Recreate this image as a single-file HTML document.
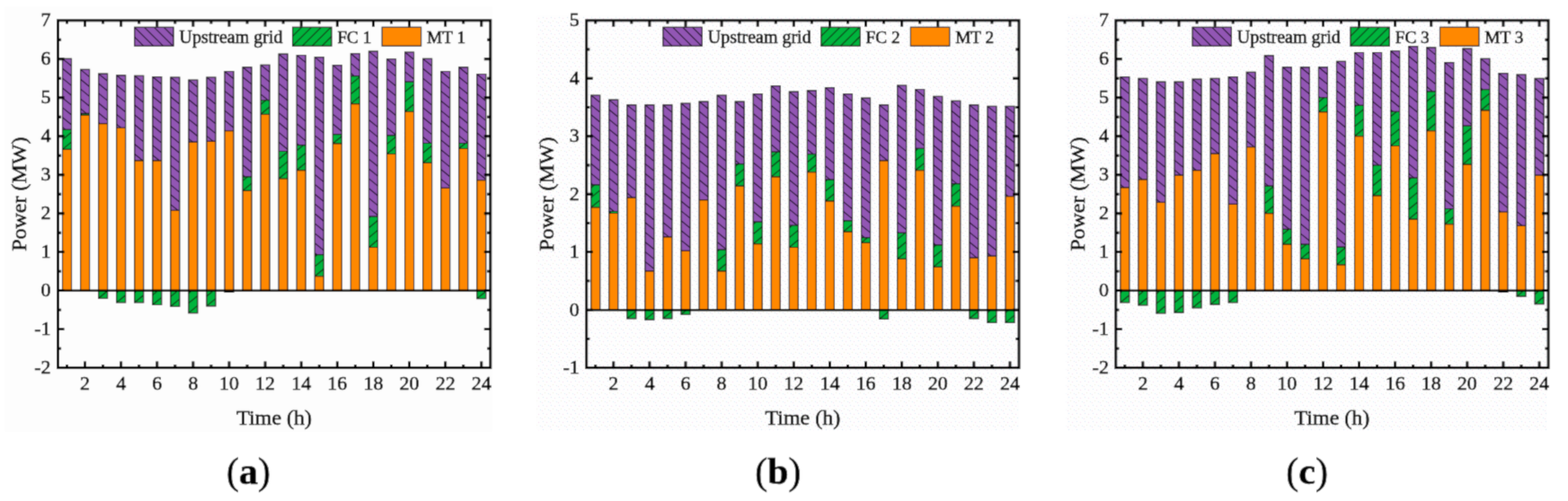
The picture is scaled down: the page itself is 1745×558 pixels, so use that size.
<!DOCTYPE html>
<html><head><meta charset="utf-8"><title>Power dispatch charts</title>
<style>
html,body{margin:0;padding:0;background:#fff;}
body{width:1745px;height:558px;overflow:hidden;}
svg{display:block;}
text{font-family:"Liberation Serif","Times New Roman",serif;fill:#000;stroke:#000;stroke-width:0.55px;}
.tk{font-size:22px;}
.ax{font-size:24px;}
.lg{font-size:19.3px;}
.lg1{font-size:20px;}
.cap{font-size:42px;}
</style></head><body>
<svg width="1745" height="558" viewBox="0 0 1745 558">
<defs><pattern id="dots" patternUnits="userSpaceOnUse" x="0" y="0" width="9" height="9"><rect width="9" height="9" fill="#fefefe"/><rect x="1" y="1" width="1" height="1" fill="#cfe6f8"/><rect x="5" y="2" width="1" height="1" fill="#f4d6ef"/><rect x="3" y="5" width="1" height="1" fill="#ebebd8"/><rect x="7" y="6" width="1" height="1" fill="#d4e8f8"/><rect x="0" y="7" width="1" height="1" fill="#f1dcec"/></pattern><filter id="bl" x="0" y="0" width="1745" height="558" filterUnits="userSpaceOnUse"><feConvolveMatrix order="3" kernelMatrix="0.0277 0.1110 0.0277 0.1110 0.4452 0.1110 0.0277 0.1110 0.0277" edgeMode="duplicate"/></filter></defs>
<g filter="url(#bl)">
<rect width="1745" height="558" fill="#fff"/>
<rect x="5" y="7" width="543" height="474" fill="#fdfdfd"/>
<path d="M69.53,65.35h10v79.08h-10zM89.58,77.38h10v48.99h-10zM109.64,82.11h10v55.44h-10zM129.69,83.83h10v58.45h-10zM149.74,84.26h10v94.55h-10zM169.8,85.55h10v93.26h-10zM189.85,85.98h10v148.27h-10zM209.91,88.99h10v69.19h-10zM229.96,85.98h10v71.34h-10zM250.01,79.53h10v66.19h-10zM270.07,74.8h10v122.06h-10zM290.12,72.22h10v39.54h-10zM310.18,60.19h10v108.3h-10zM330.23,61.48h10v100.14h-10zM350.29,63.63h10v220.05h-10zM370.34,72.65h10v76.93h-10zM390.39,59.76h10v24.93h-10zM410.45,57.18h10v183.94h-10zM430.5,65.78h10v85.1h-10zM450.56,58.04h10v33.09h-10zM470.61,65.35h10v94.12h-10zM490.66,79.53h10v129.79h-10zM510.72,74.8h10v84.67h-10zM530.77,82.54h10v118.19h-10z" fill="#9256b4"/>
<path d="M69.53,144.43h10v21.92h-10zM89.58,126.38h10v1.72h-10zM109.64,323.64h10v8.6h-10zM129.69,323.64h10v13.32h-10zM149.74,323.64h10v13.32h-10zM169.8,323.64h10v15.9h-10zM189.85,323.64h10v17.62h-10zM209.91,323.64h10v24.93h-10zM229.96,323.64h10v17.19h-10zM250.01,323.64h10v1.72h-10zM270.07,196.86h10v15.47h-10zM290.12,111.76h10v15.47h-10zM310.18,168.49h10v30.51h-10zM330.23,161.62h10v27.94h-10zM350.29,283.68h10v24.07h-10zM370.34,149.58h10v10.31h-10zM390.39,84.69h10v30.94h-10zM410.45,241.13h10v34.38h-10zM430.5,150.87h10v20.63h-10zM450.56,91.13h10v33.09h-10zM470.61,159.47h10v21.92h-10zM490.66,323.64h10v0.86h-10zM510.72,159.47h10v6.02h-10zM530.77,323.64h10v9.03h-10z" fill="#04b43c"/>
<path d="M69.53,166.35h10v157.3h-10zM89.58,128.1h10v195.55h-10zM109.64,137.55h10v186.09h-10zM129.69,142.28h10v181.37h-10zM149.74,178.81h10v144.84h-10zM169.8,178.81h10v144.84h-10zM189.85,234.25h10v89.39h-10zM209.91,158.18h10v165.46h-10zM229.96,157.32h10v166.32h-10zM250.01,145.72h10v177.93h-10zM270.07,212.33h10v111.31h-10zM290.12,127.24h10v196.41h-10zM310.18,199.01h10v124.64h-10zM330.23,189.55h10v134.09h-10zM350.29,307.74h10v15.9h-10zM370.34,159.9h10v163.75h-10zM390.39,115.63h10v208.01h-10zM410.45,275.51h10v48.14h-10zM430.5,171.5h10v152.14h-10zM450.56,124.23h10v199.42h-10zM470.61,181.39h10v142.26h-10zM490.66,209.32h10v114.32h-10zM510.72,165.49h10v158.16h-10zM530.77,200.73h10v122.92h-10z" fill="#ff8800"/>
<path d="M69.53,65.35L79.53,73.55M69.53,76.25L79.53,84.45M69.53,87.15L79.53,95.35M69.53,98.05L79.53,106.25M69.53,108.95L79.53,117.15M69.53,119.85L79.53,128.05M69.53,130.75L79.53,138.95M69.53,141.65L72.92,144.43M89.58,77.38L99.58,85.58M89.58,88.28L99.58,96.48M89.58,99.18L99.58,107.38M89.58,110.08L99.58,118.28M89.58,120.98L96.16,126.38M109.64,82.11L119.64,90.31M109.64,93.01L119.64,101.21M109.64,103.91L119.64,112.11M109.64,114.81L119.64,123.01M109.64,125.71L119.64,133.91M109.64,136.61L110.78,137.55M129.69,83.83L139.69,92.03M129.69,94.73L139.69,102.93M129.69,105.63L139.69,113.83M129.69,116.53L139.69,124.73M129.69,127.43L139.69,135.63M129.69,138.33L134.51,142.28M149.74,84.26L159.74,92.46M149.74,95.16L159.74,103.36M149.74,106.06L159.74,114.26M149.74,116.96L159.74,125.16M149.74,127.86L159.74,136.06M149.74,138.76L159.74,146.96M149.74,149.66L159.74,157.86M149.74,160.56L159.74,168.76M149.74,171.46L158.71,178.81M169.8,85.55L179.8,93.75M169.8,96.45L179.8,104.65M169.8,107.35L179.8,115.55M169.8,118.25L179.8,126.45M169.8,129.15L179.8,137.35M169.8,140.05L179.8,148.25M169.8,150.95L179.8,159.15M169.8,161.85L179.8,170.05M169.8,172.75L177.19,178.81M189.85,85.98L199.85,94.18M189.85,96.88L199.85,105.08M189.85,107.78L199.85,115.98M189.85,118.68L199.85,126.88M189.85,129.58L199.85,137.78M189.85,140.48L199.85,148.68M189.85,151.38L199.85,159.58M189.85,162.28L199.85,170.48M189.85,173.18L199.85,181.38M189.85,184.08L199.85,192.28M189.85,194.98L199.85,203.18M189.85,205.88L199.85,214.08M189.85,216.78L199.85,224.98M189.85,227.68L197.87,234.25M209.91,88.99L219.91,97.19M209.91,99.89L219.91,108.09M209.91,110.79L219.91,118.99M209.91,121.69L219.91,129.89M209.91,132.59L219.91,140.79M209.91,143.49L219.91,151.69M209.91,154.39L214.53,158.18M229.96,85.98L239.96,94.18M229.96,96.88L239.96,105.08M229.96,107.78L239.96,115.98M229.96,118.68L239.96,126.88M229.96,129.58L239.96,137.78M229.96,140.48L239.96,148.68M229.96,151.38L237.21,157.32M250.01,79.53L260.01,87.73M250.01,90.43L260.01,98.63M250.01,101.33L260.01,109.53M250.01,112.23L260.01,120.43M250.01,123.13L260.01,131.33M250.01,134.03L260.01,142.23M250.01,144.93L250.97,145.72M270.07,74.8L280.07,83M270.07,85.7L280.07,93.9M270.07,96.6L280.07,104.8M270.07,107.5L280.07,115.7M270.07,118.4L280.07,126.6M270.07,129.3L280.07,137.5M270.07,140.2L280.07,148.4M270.07,151.1L280.07,159.3M270.07,162L280.07,170.2M270.07,172.9L280.07,181.1M270.07,183.8L280.07,192M270.07,194.7L272.7,196.86M290.12,72.22L300.12,80.42M290.12,83.12L300.12,91.32M290.12,94.02L300.12,102.22M290.12,104.92L298.46,111.76M310.18,60.19L320.18,68.39M310.18,71.09L320.18,79.29M310.18,81.99L320.18,90.19M310.18,92.89L320.18,101.09M310.18,103.79L320.18,111.99M310.18,114.69L320.18,122.89M310.18,125.59L320.18,133.79M310.18,136.49L320.18,144.69M310.18,147.39L320.18,155.59M310.18,158.29L320.18,166.49M330.23,61.48L340.23,69.68M330.23,72.38L340.23,80.58M330.23,83.28L340.23,91.48M330.23,94.18L340.23,102.38M330.23,105.08L340.23,113.28M330.23,115.98L340.23,124.18M330.23,126.88L340.23,135.08M330.23,137.78L340.23,145.98M330.23,148.68L340.23,156.88M330.23,159.58L332.72,161.62M350.29,63.63L360.29,71.83M350.29,74.53L360.29,82.73M350.29,85.43L360.29,93.63M350.29,96.33L360.29,104.53M350.29,107.23L360.29,115.43M350.29,118.13L360.29,126.33M350.29,129.03L360.29,137.23M350.29,139.93L360.29,148.13M350.29,150.83L360.29,159.03M350.29,161.73L360.29,169.93M350.29,172.63L360.29,180.83M350.29,183.53L360.29,191.73M350.29,194.43L360.29,202.63M350.29,205.33L360.29,213.53M350.29,216.23L360.29,224.43M350.29,227.13L360.29,235.33M350.29,238.03L360.29,246.23M350.29,248.93L360.29,257.13M350.29,259.83L360.29,268.03M350.29,270.73L360.29,278.93M350.29,281.63L352.78,283.68M370.34,72.65L380.34,80.85M370.34,83.55L380.34,91.75M370.34,94.45L380.34,102.65M370.34,105.35L380.34,113.55M370.34,116.25L380.34,124.45M370.34,127.15L380.34,135.35M370.34,138.05L380.34,146.25M370.34,148.95L371.11,149.58M390.39,59.76L400.39,67.96M390.39,70.66L400.39,78.86M390.39,81.56L394.21,84.69M410.45,57.18L420.45,65.38M410.45,68.08L420.45,76.28M410.45,78.98L420.45,87.18M410.45,89.88L420.45,98.08M410.45,100.78L420.45,108.98M410.45,111.68L420.45,119.88M410.45,122.58L420.45,130.78M410.45,133.48L420.45,141.68M410.45,144.38L420.45,152.58M410.45,155.28L420.45,163.48M410.45,166.18L420.45,174.38M410.45,177.08L420.45,185.28M410.45,187.98L420.45,196.18M410.45,198.88L420.45,207.08M410.45,209.78L420.45,217.98M410.45,220.68L420.45,228.88M410.45,231.58L420.45,239.78M430.5,65.78L440.5,73.98M430.5,76.68L440.5,84.88M430.5,87.58L440.5,95.78M430.5,98.48L440.5,106.68M430.5,109.38L440.5,117.58M430.5,120.28L440.5,128.48M430.5,131.18L440.5,139.38M430.5,142.08L440.5,150.28M450.56,58.04L460.56,66.24M450.56,68.94L460.56,77.14M450.56,79.84L460.56,88.04M450.56,90.74L451.04,91.13M470.61,65.35L480.61,73.55M470.61,76.25L480.61,84.45M470.61,87.15L480.61,95.35M470.61,98.05L480.61,106.25M470.61,108.95L480.61,117.15M470.61,119.85L480.61,128.05M470.61,130.75L480.61,138.95M470.61,141.65L480.61,149.85M470.61,152.55L479.05,159.47M490.66,79.53L500.66,87.73M490.66,90.43L500.66,98.63M490.66,101.33L500.66,109.53M490.66,112.23L500.66,120.43M490.66,123.13L500.66,131.33M490.66,134.03L500.66,142.23M490.66,144.93L500.66,153.13M490.66,155.83L500.66,164.03M490.66,166.73L500.66,174.93M490.66,177.63L500.66,185.83M490.66,188.53L500.66,196.73M490.66,199.43L500.66,207.63M510.72,74.8L520.72,83M510.72,85.7L520.72,93.9M510.72,96.6L520.72,104.8M510.72,107.5L520.72,115.7M510.72,118.4L520.72,126.6M510.72,129.3L520.72,137.5M510.72,140.2L520.72,148.4M510.72,151.1L520.72,159.3M530.77,82.54L540.77,90.74M530.77,93.44L540.77,101.64M530.77,104.34L540.77,112.54M530.77,115.24L540.77,123.44M530.77,126.14L540.77,134.34M530.77,137.04L540.77,145.24M530.77,147.94L540.77,156.14M530.77,158.84L540.77,167.04M530.77,169.74L540.77,177.94M530.77,180.64L540.77,188.84M530.77,191.54L540.77,199.74" stroke="#1e1428" stroke-width="1.15" fill="none"/>
<path d="M69.53,166.35L79.53,158.15M69.53,155.45L79.53,147.25M69.53,144.55L69.67,144.43M89.58,128.1L91.68,126.38M109.64,332.24L119.64,324.04M129.69,336.97L139.69,328.77M129.69,326.07L132.64,323.64M149.74,336.97L159.74,328.77M149.74,326.07L152.7,323.64M169.8,339.55L179.8,331.35M169.8,328.65L175.9,323.64M189.85,341.27L199.85,333.07M189.85,330.37L198.05,323.64M209.91,348.57L219.91,340.37M209.91,337.67L219.91,329.47M209.91,326.77L213.72,323.64M229.96,340.84L239.96,332.64M229.96,329.94L237.63,323.64M250.01,325.36L252.11,323.64M270.07,212.33L280.07,204.13M270.07,201.43L275.64,196.86M290.12,127.24L300.12,119.04M290.12,116.34L295.7,111.76M310.18,199.01L320.18,190.81M310.18,188.11L320.18,179.91M310.18,177.21L320.18,169.01M330.23,189.55L340.23,181.35M330.23,178.65L340.23,170.45M330.23,167.75L337.71,161.62M350.29,307.74L360.29,299.54M350.29,296.84L360.29,288.64M350.29,285.94L353.05,283.68M370.34,159.9L380.34,151.7M390.39,115.63L400.39,107.43M390.39,104.73L400.39,96.53M390.39,93.83L400.39,85.63M410.45,275.51L420.45,267.31M410.45,264.61L420.45,256.41M410.45,253.71L420.45,245.51M410.45,242.81L412.5,241.13M430.5,171.5L440.5,163.3M430.5,160.6L440.5,152.4M450.56,124.23L460.56,116.03M450.56,113.33L460.56,105.13M450.56,102.43L460.56,94.23M450.56,91.53L451.04,91.13M470.61,181.39L480.61,173.19M470.61,170.49L480.61,162.29M470.61,159.59L470.76,159.47M490.66,324.5L491.71,323.64M510.72,165.49L518.06,159.47M530.77,332.67L540.77,324.47" stroke="#0c2a14" stroke-width="1.15" fill="none"/>
<path d="M69.53,65.35h10v79.08h-10zM69.53,144.43h10v21.92h-10zM69.53,166.35h10v157.3h-10zM89.58,77.38h10v48.99h-10zM89.58,126.38h10v1.72h-10zM89.58,128.1h10v195.55h-10zM109.64,82.11h10v55.44h-10zM109.64,137.55h10v186.09h-10zM109.64,323.64h10v8.6h-10zM129.69,83.83h10v58.45h-10zM129.69,142.28h10v181.37h-10zM129.69,323.64h10v13.32h-10zM149.74,84.26h10v94.55h-10zM149.74,178.81h10v144.84h-10zM149.74,323.64h10v13.32h-10zM169.8,85.55h10v93.26h-10zM169.8,178.81h10v144.84h-10zM169.8,323.64h10v15.9h-10zM189.85,85.98h10v148.27h-10zM189.85,234.25h10v89.39h-10zM189.85,323.64h10v17.62h-10zM209.91,88.99h10v69.19h-10zM209.91,158.18h10v165.46h-10zM209.91,323.64h10v24.93h-10zM229.96,85.98h10v71.34h-10zM229.96,157.32h10v166.32h-10zM229.96,323.64h10v17.19h-10zM250.01,79.53h10v66.19h-10zM250.01,145.72h10v177.93h-10zM250.01,323.64h10v1.72h-10zM270.07,74.8h10v122.06h-10zM270.07,196.86h10v15.47h-10zM270.07,212.33h10v111.31h-10zM290.12,72.22h10v39.54h-10zM290.12,111.76h10v15.47h-10zM290.12,127.24h10v196.41h-10zM310.18,60.19h10v108.3h-10zM310.18,168.49h10v30.51h-10zM310.18,199.01h10v124.64h-10zM330.23,61.48h10v100.14h-10zM330.23,161.62h10v27.94h-10zM330.23,189.55h10v134.09h-10zM350.29,63.63h10v220.05h-10zM350.29,283.68h10v24.07h-10zM350.29,307.74h10v15.9h-10zM370.34,72.65h10v76.93h-10zM370.34,149.58h10v10.31h-10zM370.34,159.9h10v163.75h-10zM390.39,59.76h10v24.93h-10zM390.39,84.69h10v30.94h-10zM390.39,115.63h10v208.01h-10zM410.45,57.18h10v183.94h-10zM410.45,241.13h10v34.38h-10zM410.45,275.51h10v48.14h-10zM430.5,65.78h10v85.1h-10zM430.5,150.87h10v20.63h-10zM430.5,171.5h10v152.14h-10zM450.56,58.04h10v33.09h-10zM450.56,91.13h10v33.09h-10zM450.56,124.23h10v199.42h-10zM470.61,65.35h10v94.12h-10zM470.61,159.47h10v21.92h-10zM470.61,181.39h10v142.26h-10zM490.66,79.53h10v129.79h-10zM490.66,209.32h10v114.32h-10zM490.66,323.64h10v0.86h-10zM510.72,74.8h10v84.67h-10zM510.72,159.47h10v6.02h-10zM510.72,165.49h10v158.16h-10zM530.77,82.54h10v118.19h-10zM530.77,200.73h10v122.92h-10zM530.77,323.64h10v9.03h-10z" stroke="#141414" stroke-width="1.15" fill="none"/>
<line x1="64.5" y1="323.64" x2="545.8" y2="323.64" stroke="#000" stroke-width="2.5"/>
<path d="M74.53,409.6V406M74.53,22.8V26.4M94.58,409.6V402.6M94.58,22.8V29.8M114.64,409.6V406M114.64,22.8V26.4M134.69,409.6V402.6M134.69,22.8V29.8M154.74,409.6V406M154.74,22.8V26.4M174.8,409.6V402.6M174.8,22.8V29.8M194.85,409.6V406M194.85,22.8V26.4M214.91,409.6V402.6M214.91,22.8V29.8M234.96,409.6V406M234.96,22.8V26.4M255.01,409.6V402.6M255.01,22.8V29.8M275.07,409.6V406M275.07,22.8V26.4M295.12,409.6V402.6M295.12,22.8V29.8M315.18,409.6V406M315.18,22.8V26.4M335.23,409.6V402.6M335.23,22.8V29.8M355.29,409.6V406M355.29,22.8V26.4M375.34,409.6V402.6M375.34,22.8V29.8M395.39,409.6V406M395.39,22.8V26.4M415.45,409.6V402.6M415.45,22.8V29.8M435.5,409.6V406M435.5,22.8V26.4M455.56,409.6V402.6M455.56,22.8V29.8M475.61,409.6V406M475.61,22.8V26.4M495.66,409.6V402.6M495.66,22.8V29.8M515.72,409.6V406M515.72,22.8V26.4M535.77,409.6V402.6M535.77,22.8V29.8M64.5,388.11H68.1M545.8,388.11H542.2M64.5,366.62H71.5M545.8,366.62H538.8M64.5,345.13H68.1M545.8,345.13H542.2M64.5,323.64H71.5M545.8,323.64H538.8M64.5,302.16H68.1M545.8,302.16H542.2M64.5,280.67H71.5M545.8,280.67H538.8M64.5,259.18H68.1M545.8,259.18H542.2M64.5,237.69H71.5M545.8,237.69H538.8M64.5,216.2H68.1M545.8,216.2H542.2M64.5,194.71H71.5M545.8,194.71H538.8M64.5,173.22H68.1M545.8,173.22H542.2M64.5,151.73H71.5M545.8,151.73H538.8M64.5,130.24H68.1M545.8,130.24H542.2M64.5,108.76H71.5M545.8,108.76H538.8M64.5,87.27H68.1M545.8,87.27H542.2M64.5,65.78H71.5M545.8,65.78H538.8M64.5,44.29H68.1M545.8,44.29H542.2" stroke="#000" stroke-width="2.9" fill="none"/>
<rect x="64.5" y="22.8" width="481.3" height="386.8" fill="none" stroke="#000" stroke-width="2.9"/>
<text class="tk" x="94.58" y="434.2" text-anchor="middle">2</text>
<text class="tk" x="134.69" y="434.2" text-anchor="middle">4</text>
<text class="tk" x="174.8" y="434.2" text-anchor="middle">6</text>
<text class="tk" x="214.91" y="434.2" text-anchor="middle">8</text>
<text class="tk" x="255.01" y="434.2" text-anchor="middle">10</text>
<text class="tk" x="295.12" y="434.2" text-anchor="middle">12</text>
<text class="tk" x="335.23" y="434.2" text-anchor="middle">14</text>
<text class="tk" x="375.34" y="434.2" text-anchor="middle">16</text>
<text class="tk" x="415.45" y="434.2" text-anchor="middle">18</text>
<text class="tk" x="455.56" y="434.2" text-anchor="middle">20</text>
<text class="tk" x="495.66" y="434.2" text-anchor="middle">22</text>
<text class="tk" x="535.77" y="434.2" text-anchor="middle">24</text>
<text class="tk" x="56.6" y="416.1" text-anchor="end">-2</text>
<text class="tk" x="56.6" y="373.12" text-anchor="end">-1</text>
<text class="tk" x="56.6" y="330.14" text-anchor="end">0</text>
<text class="tk" x="56.6" y="287.17" text-anchor="end">1</text>
<text class="tk" x="56.6" y="244.19" text-anchor="end">2</text>
<text class="tk" x="56.6" y="201.21" text-anchor="end">3</text>
<text class="tk" x="56.6" y="158.23" text-anchor="end">4</text>
<text class="tk" x="56.6" y="115.26" text-anchor="end">5</text>
<text class="tk" x="56.6" y="72.28" text-anchor="end">6</text>
<text class="tk" x="56.6" y="29.3" text-anchor="end">7</text>
<text class="ax" x="305.15" y="473" text-anchor="middle">Time (h)</text>
<text class="ax" x="0" y="0" text-anchor="middle" transform="translate(29.3,216.2) rotate(-90)">Power (MW)</text>
<rect x="149.7" y="30.3" width="43.4" height="20.9" fill="#9256b4"/>
<path d="M182.4,30.3L193.1,41M171.5,30.3L192.4,51.2M160.6,30.3L181.5,51.2M149.7,30.3L170.6,51.2M149.7,41.2L159.7,51.2" stroke="#1e1428" stroke-width="1.15" fill="none"/>
<rect x="149.7" y="30.3" width="43.4" height="20.9" fill="none" stroke="#141414" stroke-width="1.15"/>
<text class="lg1" x="199.5" y="47.6">Upstream grid</text>
<rect x="325.6" y="30.3" width="43.4" height="20.9" fill="#04b43c"/>
<path d="M358.3,51.2L369,40.5M347.4,51.2L368.3,30.3M336.5,51.2L357.4,30.3M325.6,51.2L346.5,30.3M325.6,40.3L335.6,30.3" stroke="#0c2a14" stroke-width="1.15" fill="none"/>
<rect x="325.6" y="30.3" width="43.4" height="20.9" fill="none" stroke="#141414" stroke-width="1.15"/>
<text class="lg" x="375.4" y="47.6">FC 1</text>
<rect x="425.2" y="30.3" width="43.4" height="20.9" fill="#ff8800"/>
<rect x="425.2" y="30.3" width="43.4" height="20.9" fill="none" stroke="#141414" stroke-width="1.15"/>
<text class="lg" x="475" y="47.6">MT 1</text>
<text class="cap" x="276.5" y="538.5" text-anchor="middle">(<tspan font-weight="bold">a</tspan>)</text>
<rect x="597.5" y="17" width="536.5" height="462.2" fill="url(#dots)"/>
<path d="M657.73,105.96h10v99.92h-10zM677.78,111.12h10v124.42h-10zM697.84,116.92h10v103.15h-10zM717.89,116.92h10v185.02h-10zM737.94,116.92h10v146.98h-10zM758,114.99h10v164.39h-10zM778.05,113.05h10v109.59h-10zM798.11,105.96h10v172.13h-10zM818.16,113.05h10v69.62h-10zM838.21,104.67h10v142.47h-10zM858.27,95.65h10v73.49h-10zM878.32,102.09h10v148.92h-10zM898.38,100.8h10v70.91h-10zM918.43,97.58h10v102.5h-10zM938.49,104.67h10v141.18h-10zM958.54,109.19h10v155.36h-10zM978.59,116.92h10v61.89h-10zM998.65,95h10v164.39h-10zM1018.7,99.52h10v65.76h-10zM1038.76,107.25h10v165.68h-10zM1058.81,112.41h10v92.19h-10zM1078.86,116.92h10v170.19h-10zM1098.92,118.21h10v166.97h-10zM1118.97,118.21h10v100.57h-10z" fill="#9256b4"/>
<path d="M657.73,205.89h10v25.14h-10zM677.78,235.54h10v1.93h-10zM697.84,345.13h10v9.67h-10zM717.89,345.13h10v10.96h-10zM737.94,345.13h10v9.67h-10zM758,345.13h10v5.16h-10zM798.11,278.09h10v23.85h-10zM818.16,182.68h10v24.5h-10zM838.21,247.14h10v24.5h-10zM858.27,169.14h10v27.72h-10zM878.32,251.01h10v24.5h-10zM898.38,171.72h10v19.98h-10zM918.43,200.08h10v23.85h-10zM938.49,245.85h10v12.25h-10zM958.54,264.55h10v5.8h-10zM978.59,345.13h10v10.31h-10zM998.65,259.39h10v29.01h-10zM1018.7,165.27h10v24.5h-10zM1038.76,272.93h10v24.5h-10zM1058.81,204.6h10v25.14h-10zM1078.86,345.13h10v9.67h-10zM1098.92,345.13h10v14.18h-10zM1118.97,345.13h10v14.18h-10z" fill="#04b43c"/>
<path d="M657.73,231.03h10v114.11h-10zM677.78,237.47h10v107.66h-10zM697.84,220.07h10v125.07h-10zM717.89,301.94h10v43.19h-10zM737.94,263.91h10v81.23h-10zM758,279.38h10v65.76h-10zM778.05,222.65h10v122.49h-10zM798.11,301.94h10v43.19h-10zM818.16,207.17h10v137.96h-10zM838.21,271.64h10v73.49h-10zM858.27,196.86h10v148.27h-10zM878.32,275.51h10v69.62h-10zM898.38,191.7h10v153.43h-10zM918.43,223.94h10v121.2h-10zM938.49,258.1h10v87.03h-10zM958.54,270.35h10v74.78h-10zM978.59,178.81h10v166.32h-10zM998.65,288.4h10v56.73h-10zM1018.7,189.77h10v155.36h-10zM1038.76,297.43h10v47.71h-10zM1058.81,229.74h10v115.4h-10zM1078.86,287.11h10v58.02h-10zM1098.92,285.18h10v59.95h-10zM1118.97,218.78h10v126.35h-10z" fill="#ff8800"/>
<path d="M657.73,105.96L667.73,114.16M657.73,116.86L667.73,125.06M657.73,127.76L667.73,135.96M657.73,138.66L667.73,146.86M657.73,149.56L667.73,157.76M657.73,160.46L667.73,168.66M657.73,171.36L667.73,179.56M657.73,182.26L667.73,190.46M657.73,193.16L667.73,201.36M657.73,204.06L659.95,205.89M677.78,111.12L687.78,119.32M677.78,122.02L687.78,130.22M677.78,132.92L687.78,141.12M677.78,143.82L687.78,152.02M677.78,154.72L687.78,162.92M677.78,165.62L687.78,173.82M677.78,176.52L687.78,184.72M677.78,187.42L687.78,195.62M677.78,198.32L687.78,206.52M677.78,209.22L687.78,217.42M677.78,220.12L687.78,228.32M677.78,231.02L683.29,235.54M697.84,116.92L707.84,125.12M697.84,127.82L707.84,136.02M697.84,138.72L707.84,146.92M697.84,149.62L707.84,157.82M697.84,160.52L707.84,168.72M697.84,171.42L707.84,179.62M697.84,182.32L707.84,190.52M697.84,193.22L707.84,201.42M697.84,204.12L707.84,212.32M697.84,215.02L703.99,220.07M717.89,116.92L727.89,125.12M717.89,127.82L727.89,136.02M717.89,138.72L727.89,146.92M717.89,149.62L727.89,157.82M717.89,160.52L727.89,168.72M717.89,171.42L727.89,179.62M717.89,182.32L727.89,190.52M717.89,193.22L727.89,201.42M717.89,204.12L727.89,212.32M717.89,215.02L727.89,223.22M717.89,225.92L727.89,234.12M717.89,236.82L727.89,245.02M717.89,247.72L727.89,255.92M717.89,258.62L727.89,266.82M717.89,269.52L727.89,277.72M717.89,280.42L727.89,288.62M717.89,291.32L727.89,299.52M737.94,116.92L747.94,125.12M737.94,127.82L747.94,136.02M737.94,138.72L747.94,146.92M737.94,149.62L747.94,157.82M737.94,160.52L747.94,168.72M737.94,171.42L747.94,179.62M737.94,182.32L747.94,190.52M737.94,193.22L747.94,201.42M737.94,204.12L747.94,212.32M737.94,215.02L747.94,223.22M737.94,225.92L747.94,234.12M737.94,236.82L747.94,245.02M737.94,247.72L747.94,255.92M737.94,258.62L744.39,263.91M758,114.99L768,123.19M758,125.89L768,134.09M758,136.79L768,144.99M758,147.69L768,155.89M758,158.59L768,166.79M758,169.49L768,177.69M758,180.39L768,188.59M758,191.29L768,199.49M758,202.19L768,210.39M758,213.09L768,221.29M758,223.99L768,232.19M758,234.89L768,243.09M758,245.79L768,253.99M758,256.69L768,264.89M758,267.59L768,275.79M758,278.49L759.08,279.38M778.05,113.05L788.05,121.25M778.05,123.95L788.05,132.15M778.05,134.85L788.05,143.05M778.05,145.75L788.05,153.95M778.05,156.65L788.05,164.85M778.05,167.55L788.05,175.75M778.05,178.45L788.05,186.65M778.05,189.35L788.05,197.55M778.05,200.25L788.05,208.45M778.05,211.15L788.05,219.35M778.05,222.05L778.78,222.65M798.11,105.96L808.11,114.16M798.11,116.86L808.11,125.06M798.11,127.76L808.11,135.96M798.11,138.66L808.11,146.86M798.11,149.56L808.11,157.76M798.11,160.46L808.11,168.66M798.11,171.36L808.11,179.56M798.11,182.26L808.11,190.46M798.11,193.16L808.11,201.36M798.11,204.06L808.11,212.26M798.11,214.96L808.11,223.16M798.11,225.86L808.11,234.06M798.11,236.76L808.11,244.96M798.11,247.66L808.11,255.86M798.11,258.56L808.11,266.76M798.11,269.46L808.11,277.66M818.16,113.05L828.16,121.25M818.16,123.95L828.16,132.15M818.16,134.85L828.16,143.05M818.16,145.75L828.16,153.95M818.16,156.65L828.16,164.85M818.16,167.55L828.16,175.75M818.16,178.45L823.31,182.68M838.21,104.67L848.21,112.87M838.21,115.57L848.21,123.77M838.21,126.47L848.21,134.67M838.21,137.37L848.21,145.57M838.21,148.27L848.21,156.47M838.21,159.17L848.21,167.37M838.21,170.07L848.21,178.27M838.21,180.97L848.21,189.17M838.21,191.87L848.21,200.07M838.21,202.77L848.21,210.97M838.21,213.67L848.21,221.87M838.21,224.57L848.21,232.77M838.21,235.47L848.21,243.67M838.21,246.37L839.16,247.14M858.27,95.65L868.27,103.85M858.27,106.55L868.27,114.75M858.27,117.45L868.27,125.65M858.27,128.35L868.27,136.55M858.27,139.25L868.27,147.45M858.27,150.15L868.27,158.35M858.27,161.05L868.14,169.14M878.32,102.09L888.32,110.29M878.32,112.99L888.32,121.19M878.32,123.89L888.32,132.09M878.32,134.79L888.32,142.99M878.32,145.69L888.32,153.89M878.32,156.59L888.32,164.79M878.32,167.49L888.32,175.69M878.32,178.39L888.32,186.59M878.32,189.29L888.32,197.49M878.32,200.19L888.32,208.39M878.32,211.09L888.32,219.29M878.32,221.99L888.32,230.19M878.32,232.89L888.32,241.09M878.32,243.79L887.13,251.01M898.38,100.8L908.38,109M898.38,111.7L908.38,119.9M898.38,122.6L908.38,130.8M898.38,133.5L908.38,141.7M898.38,144.4L908.38,152.6M898.38,155.3L908.38,163.5M898.38,166.2L905.1,171.72M918.43,97.58L928.43,105.78M918.43,108.48L928.43,116.68M918.43,119.38L928.43,127.58M918.43,130.28L928.43,138.48M918.43,141.18L928.43,149.38M918.43,152.08L928.43,160.28M918.43,162.98L928.43,171.18M918.43,173.88L928.43,182.08M918.43,184.78L928.43,192.98M918.43,195.68L923.8,200.08M938.49,104.67L948.49,112.87M938.49,115.57L948.49,123.77M938.49,126.47L948.49,134.67M938.49,137.37L948.49,145.57M938.49,148.27L948.49,156.47M938.49,159.17L948.49,167.37M938.49,170.07L948.49,178.27M938.49,180.97L948.49,189.17M938.49,191.87L948.49,200.07M938.49,202.77L948.49,210.97M938.49,213.67L948.49,221.87M938.49,224.57L948.49,232.77M938.49,235.47L948.49,243.67M958.54,109.19L968.54,117.39M958.54,120.09L968.54,128.29M958.54,130.99L968.54,139.19M958.54,141.89L968.54,150.09M958.54,152.79L968.54,160.99M958.54,163.69L968.54,171.89M958.54,174.59L968.54,182.79M958.54,185.49L968.54,193.69M958.54,196.39L968.54,204.59M958.54,207.29L968.54,215.49M958.54,218.19L968.54,226.39M958.54,229.09L968.54,237.29M958.54,239.99L968.54,248.19M958.54,250.89L968.54,259.09M958.54,261.79L961.91,264.55M978.59,116.92L988.59,125.12M978.59,127.82L988.59,136.02M978.59,138.72L988.59,146.92M978.59,149.62L988.59,157.82M978.59,160.52L988.59,168.72M978.59,171.42L987.6,178.81M998.65,95L1008.65,103.2M998.65,105.9L1008.65,114.1M998.65,116.8L1008.65,125M998.65,127.7L1008.65,135.9M998.65,138.6L1008.65,146.8M998.65,149.5L1008.65,157.7M998.65,160.4L1008.65,168.6M998.65,171.3L1008.65,179.5M998.65,182.2L1008.65,190.4M998.65,193.1L1008.65,201.3M998.65,204L1008.65,212.2M998.65,214.9L1008.65,223.1M998.65,225.8L1008.65,234M998.65,236.7L1008.65,244.9M998.65,247.6L1008.65,255.8M998.65,258.5L999.73,259.39M1018.7,99.52L1028.7,107.72M1018.7,110.42L1028.7,118.62M1018.7,121.32L1028.7,129.52M1018.7,132.22L1028.7,140.42M1018.7,143.12L1028.7,151.32M1018.7,154.02L1028.7,162.22M1018.7,164.92L1019.14,165.27M1038.76,107.25L1048.76,115.45M1038.76,118.15L1048.76,126.35M1038.76,129.05L1048.76,137.25M1038.76,139.95L1048.76,148.15M1038.76,150.85L1048.76,159.05M1038.76,161.75L1048.76,169.95M1038.76,172.65L1048.76,180.85M1038.76,183.55L1048.76,191.75M1038.76,194.45L1048.76,202.65M1038.76,205.35L1048.76,213.55M1038.76,216.25L1048.76,224.45M1038.76,227.15L1048.76,235.35M1038.76,238.05L1048.76,246.25M1038.76,248.95L1048.76,257.15M1038.76,259.85L1048.76,268.05M1038.76,270.75L1041.41,272.93M1058.81,112.41L1068.81,120.61M1058.81,123.31L1068.81,131.51M1058.81,134.21L1068.81,142.41M1058.81,145.11L1068.81,153.31M1058.81,156.01L1068.81,164.21M1058.81,166.91L1068.81,175.11M1058.81,177.81L1068.81,186.01M1058.81,188.71L1068.81,196.91M1058.81,199.61L1064.89,204.6M1078.86,116.92L1088.86,125.12M1078.86,127.82L1088.86,136.02M1078.86,138.72L1088.86,146.92M1078.86,149.62L1088.86,157.82M1078.86,160.52L1088.86,168.72M1078.86,171.42L1088.86,179.62M1078.86,182.32L1088.86,190.52M1078.86,193.22L1088.86,201.42M1078.86,204.12L1088.86,212.32M1078.86,215.02L1088.86,223.22M1078.86,225.92L1088.86,234.12M1078.86,236.82L1088.86,245.02M1078.86,247.72L1088.86,255.92M1078.86,258.62L1088.86,266.82M1078.86,269.52L1088.86,277.72M1078.86,280.42L1087.03,287.11M1098.92,118.21L1108.92,126.41M1098.92,129.11L1108.92,137.31M1098.92,140.01L1108.92,148.21M1098.92,150.91L1108.92,159.11M1098.92,161.81L1108.92,170.01M1098.92,172.71L1108.92,180.91M1098.92,183.61L1108.92,191.81M1098.92,194.51L1108.92,202.71M1098.92,205.41L1108.92,213.61M1098.92,216.31L1108.92,224.51M1098.92,227.21L1108.92,235.41M1098.92,238.11L1108.92,246.31M1098.92,249.01L1108.92,257.21M1098.92,259.91L1108.92,268.11M1098.92,270.81L1108.92,279.01M1098.92,281.71L1103.15,285.18M1118.97,118.21L1128.97,126.41M1118.97,129.11L1128.97,137.31M1118.97,140.01L1128.97,148.21M1118.97,150.91L1128.97,159.11M1118.97,161.81L1128.97,170.01M1118.97,172.71L1128.97,180.91M1118.97,183.61L1128.97,191.81M1118.97,194.51L1128.97,202.71M1118.97,205.41L1128.97,213.61M1118.97,216.31L1121.98,218.78" stroke="#1e1428" stroke-width="1.15" fill="none"/>
<path d="M657.73,231.03L667.73,222.83M657.73,220.13L667.73,211.93M657.73,209.23L661.8,205.89M677.78,237.47L680.14,235.54M697.84,354.8L707.84,346.6M717.89,356.09L727.89,347.89M717.89,345.19L717.96,345.13M737.94,354.8L747.94,346.6M758,350.29L764.29,345.13M798.11,301.94L808.11,293.74M798.11,291.04L808.11,282.84M798.11,280.14L800.61,278.09M818.16,207.17L828.16,198.97M818.16,196.27L828.16,188.07M818.16,185.37L821.45,182.68M838.21,271.64L848.21,263.44M838.21,260.74L848.21,252.54M838.21,249.84L841.5,247.14M858.27,196.86L868.27,188.66M858.27,185.96L868.27,177.76M858.27,175.06L865.49,169.14M878.32,275.51L888.32,267.31M878.32,264.61L888.32,256.41M878.32,253.71L881.61,251.01M898.38,191.7L908.38,183.5M898.38,180.8L908.38,172.6M918.43,223.94L928.43,215.74M918.43,213.04L928.43,204.84M918.43,202.14L920.93,200.08M938.49,258.1L948.49,249.9M938.49,247.2L940.13,245.85M958.54,270.35L965.62,264.55M978.59,355.45L988.59,347.25M998.65,288.4L1008.65,280.2M998.65,277.5L1008.65,269.3M998.65,266.6L1007.44,259.39M1018.7,189.77L1028.7,181.57M1018.7,178.87L1028.7,170.67M1018.7,167.97L1021.99,165.27M1038.76,297.43L1048.76,289.23M1038.76,286.53L1048.76,278.33M1038.76,275.63L1042.05,272.93M1058.81,229.74L1068.81,221.54M1058.81,218.84L1068.81,210.64M1058.81,207.94L1062.89,204.6M1078.86,354.8L1088.86,346.6M1098.92,359.32L1108.92,351.12M1098.92,348.42L1102.92,345.13M1118.97,359.32L1128.97,351.12M1118.97,348.42L1122.98,345.13" stroke="#0c2a14" stroke-width="1.15" fill="none"/>
<path d="M657.73,105.96h10v99.92h-10zM657.73,205.89h10v25.14h-10zM657.73,231.03h10v114.11h-10zM677.78,111.12h10v124.42h-10zM677.78,235.54h10v1.93h-10zM677.78,237.47h10v107.66h-10zM697.84,116.92h10v103.15h-10zM697.84,220.07h10v125.07h-10zM697.84,345.13h10v9.67h-10zM717.89,116.92h10v185.02h-10zM717.89,301.94h10v43.19h-10zM717.89,345.13h10v10.96h-10zM737.94,116.92h10v146.98h-10zM737.94,263.91h10v81.23h-10zM737.94,345.13h10v9.67h-10zM758,114.99h10v164.39h-10zM758,279.38h10v65.76h-10zM758,345.13h10v5.16h-10zM778.05,113.05h10v109.59h-10zM778.05,222.65h10v122.49h-10zM798.11,105.96h10v172.13h-10zM798.11,278.09h10v23.85h-10zM798.11,301.94h10v43.19h-10zM818.16,113.05h10v69.62h-10zM818.16,182.68h10v24.5h-10zM818.16,207.17h10v137.96h-10zM838.21,104.67h10v142.47h-10zM838.21,247.14h10v24.5h-10zM838.21,271.64h10v73.49h-10zM858.27,95.65h10v73.49h-10zM858.27,169.14h10v27.72h-10zM858.27,196.86h10v148.27h-10zM878.32,102.09h10v148.92h-10zM878.32,251.01h10v24.5h-10zM878.32,275.51h10v69.62h-10zM898.38,100.8h10v70.91h-10zM898.38,171.72h10v19.98h-10zM898.38,191.7h10v153.43h-10zM918.43,97.58h10v102.5h-10zM918.43,200.08h10v23.85h-10zM918.43,223.94h10v121.2h-10zM938.49,104.67h10v141.18h-10zM938.49,245.85h10v12.25h-10zM938.49,258.1h10v87.03h-10zM958.54,109.19h10v155.36h-10zM958.54,264.55h10v5.8h-10zM958.54,270.35h10v74.78h-10zM978.59,116.92h10v61.89h-10zM978.59,178.81h10v166.32h-10zM978.59,345.13h10v10.31h-10zM998.65,95h10v164.39h-10zM998.65,259.39h10v29.01h-10zM998.65,288.4h10v56.73h-10zM1018.7,99.52h10v65.76h-10zM1018.7,165.27h10v24.5h-10zM1018.7,189.77h10v155.36h-10zM1038.76,107.25h10v165.68h-10zM1038.76,272.93h10v24.5h-10zM1038.76,297.43h10v47.71h-10zM1058.81,112.41h10v92.19h-10zM1058.81,204.6h10v25.14h-10zM1058.81,229.74h10v115.4h-10zM1078.86,116.92h10v170.19h-10zM1078.86,287.11h10v58.02h-10zM1078.86,345.13h10v9.67h-10zM1098.92,118.21h10v166.97h-10zM1098.92,285.18h10v59.95h-10zM1098.92,345.13h10v14.18h-10zM1118.97,118.21h10v100.57h-10zM1118.97,218.78h10v126.35h-10zM1118.97,345.13h10v14.18h-10z" stroke="#141414" stroke-width="1.15" fill="none"/>
<line x1="652.7" y1="345.13" x2="1134" y2="345.13" stroke="#000" stroke-width="2.5"/>
<path d="M662.73,409.6V406M662.73,22.8V26.4M682.78,409.6V402.6M682.78,22.8V29.8M702.84,409.6V406M702.84,22.8V26.4M722.89,409.6V402.6M722.89,22.8V29.8M742.94,409.6V406M742.94,22.8V26.4M763,409.6V402.6M763,22.8V29.8M783.05,409.6V406M783.05,22.8V26.4M803.11,409.6V402.6M803.11,22.8V29.8M823.16,409.6V406M823.16,22.8V26.4M843.21,409.6V402.6M843.21,22.8V29.8M863.27,409.6V406M863.27,22.8V26.4M883.32,409.6V402.6M883.32,22.8V29.8M903.38,409.6V406M903.38,22.8V26.4M923.43,409.6V402.6M923.43,22.8V29.8M943.49,409.6V406M943.49,22.8V26.4M963.54,409.6V402.6M963.54,22.8V29.8M983.59,409.6V406M983.59,22.8V26.4M1003.65,409.6V402.6M1003.65,22.8V29.8M1023.7,409.6V406M1023.7,22.8V26.4M1043.76,409.6V402.6M1043.76,22.8V29.8M1063.81,409.6V406M1063.81,22.8V26.4M1083.86,409.6V402.6M1083.86,22.8V29.8M1103.92,409.6V406M1103.92,22.8V26.4M1123.97,409.6V402.6M1123.97,22.8V29.8M652.7,377.37H656.3M1134,377.37H1130.4M652.7,345.13H659.7M1134,345.13H1127M652.7,312.9H656.3M1134,312.9H1130.4M652.7,280.67H659.7M1134,280.67H1127M652.7,248.43H656.3M1134,248.43H1130.4M652.7,216.2H659.7M1134,216.2H1127M652.7,183.97H656.3M1134,183.97H1130.4M652.7,151.73H659.7M1134,151.73H1127M652.7,119.5H656.3M1134,119.5H1130.4M652.7,87.27H659.7M1134,87.27H1127M652.7,55.03H656.3M1134,55.03H1130.4" stroke="#000" stroke-width="2.9" fill="none"/>
<rect x="652.7" y="22.8" width="481.3" height="386.8" fill="none" stroke="#000" stroke-width="2.9"/>
<text class="tk" x="682.78" y="434.2" text-anchor="middle">2</text>
<text class="tk" x="722.89" y="434.2" text-anchor="middle">4</text>
<text class="tk" x="763" y="434.2" text-anchor="middle">6</text>
<text class="tk" x="803.11" y="434.2" text-anchor="middle">8</text>
<text class="tk" x="843.21" y="434.2" text-anchor="middle">10</text>
<text class="tk" x="883.32" y="434.2" text-anchor="middle">12</text>
<text class="tk" x="923.43" y="434.2" text-anchor="middle">14</text>
<text class="tk" x="963.54" y="434.2" text-anchor="middle">16</text>
<text class="tk" x="1003.65" y="434.2" text-anchor="middle">18</text>
<text class="tk" x="1043.76" y="434.2" text-anchor="middle">20</text>
<text class="tk" x="1083.86" y="434.2" text-anchor="middle">22</text>
<text class="tk" x="1123.97" y="434.2" text-anchor="middle">24</text>
<text class="tk" x="644.8" y="416.1" text-anchor="end">-1</text>
<text class="tk" x="644.8" y="351.63" text-anchor="end">0</text>
<text class="tk" x="644.8" y="287.17" text-anchor="end">1</text>
<text class="tk" x="644.8" y="222.7" text-anchor="end">2</text>
<text class="tk" x="644.8" y="158.23" text-anchor="end">3</text>
<text class="tk" x="644.8" y="93.77" text-anchor="end">4</text>
<text class="tk" x="644.8" y="29.3" text-anchor="end">5</text>
<text class="ax" x="893.35" y="473" text-anchor="middle">Time (h)</text>
<text class="ax" x="0" y="0" text-anchor="middle" transform="translate(616,216.2) rotate(-90)">Power (MW)</text>
<rect x="737.9" y="30.3" width="43.4" height="20.9" fill="#9256b4"/>
<path d="M770.6,30.3L781.3,41M759.7,30.3L780.6,51.2M748.8,30.3L769.7,51.2M737.9,30.3L758.8,51.2M737.9,41.2L747.9,51.2" stroke="#1e1428" stroke-width="1.15" fill="none"/>
<rect x="737.9" y="30.3" width="43.4" height="20.9" fill="none" stroke="#141414" stroke-width="1.15"/>
<text class="lg1" x="787.7" y="47.6">Upstream grid</text>
<rect x="913.8" y="30.3" width="43.4" height="20.9" fill="#04b43c"/>
<path d="M946.5,51.2L957.2,40.5M935.6,51.2L956.5,30.3M924.7,51.2L945.6,30.3M913.8,51.2L934.7,30.3M913.8,40.3L923.8,30.3" stroke="#0c2a14" stroke-width="1.15" fill="none"/>
<rect x="913.8" y="30.3" width="43.4" height="20.9" fill="none" stroke="#141414" stroke-width="1.15"/>
<text class="lg" x="963.6" y="47.6">FC 2</text>
<rect x="1013.4" y="30.3" width="43.4" height="20.9" fill="#ff8800"/>
<rect x="1013.4" y="30.3" width="43.4" height="20.9" fill="none" stroke="#141414" stroke-width="1.15"/>
<text class="lg" x="1063.2" y="47.6">MT 2</text>
<text class="cap" x="865.9" y="538.5" text-anchor="middle">(<tspan font-weight="bold">b</tspan>)</text>
<rect x="1186.7" y="16.8" width="535.3" height="462.4" fill="url(#dots)"/>
<path d="M1246.83,85.55h10v123.35h-10zM1266.88,87.27h10v112.6h-10zM1286.94,91.13h10v134.09h-10zM1306.99,91.13h10v104.01h-10zM1327.04,88.13h10v101.43h-10zM1347.1,87.27h10v83.81h-10zM1367.15,85.55h10v141.83h-10zM1387.21,80.39h10v83.38h-10zM1407.26,61.91h10v145.26h-10zM1427.31,74.8h10v180.51h-10zM1447.37,74.8h10v197.27h-10zM1467.42,74.8h10v33.95h-10zM1487.48,68.36h10v206.72h-10zM1507.53,58.47h10v58.88h-10zM1527.59,58.47h10v125.5h-10zM1547.64,56.75h10v67.48h-10zM1567.69,51.6h10v146.55h-10zM1587.75,52.88h10v48.99h-10zM1607.8,69.65h10v162.89h-10zM1627.86,54.17h10v85.96h-10zM1647.91,65.35h10v34.38h-10zM1667.96,81.68h10v154.29h-10zM1688.02,82.97h10v168.47h-10zM1708.07,87.27h10v107.87h-10z" fill="#9256b4"/>
<path d="M1246.83,323.64h10v13.32h-10zM1266.88,323.64h10v16.33h-10zM1286.94,323.64h10v25.36h-10zM1306.99,323.64h10v24.5h-10zM1327.04,323.64h10v19.34h-10zM1347.1,323.64h10v15.47h-10zM1367.15,323.64h10v13.32h-10zM1407.26,207.17h10v30.51h-10zM1427.31,255.31h10v16.76h-10zM1447.37,272.07h10v16.33h-10zM1467.42,108.76h10v15.9h-10zM1487.48,275.08h10v19.77h-10zM1507.53,117.35h10v34.38h-10zM1527.59,183.97h10v33.95h-10zM1547.64,124.23h10v38.25h-10zM1567.69,198.15h10v45.99h-10zM1587.75,101.88h10v43.84h-10zM1607.8,232.53h10v17.19h-10zM1627.86,140.13h10v42.98h-10zM1647.91,99.73h10v23.21h-10zM1667.96,323.64h10v1.72h-10zM1688.02,323.64h10v6.45h-10zM1708.07,323.64h10v15.04h-10z" fill="#04b43c"/>
<path d="M1246.83,208.89h10v114.75h-10zM1266.88,199.87h10v123.78h-10zM1286.94,225.23h10v98.42h-10zM1306.99,195.14h10v128.5h-10zM1327.04,189.55h10v134.09h-10zM1347.1,171.07h10v152.57h-10zM1367.15,227.37h10v96.27h-10zM1387.21,163.77h10v159.88h-10zM1407.26,237.69h10v85.96h-10zM1427.31,272.07h10v51.57h-10zM1447.37,288.4h10v35.24h-10zM1467.42,124.66h10v198.99h-10zM1487.48,294.85h10v28.8h-10zM1507.53,151.73h10v171.91h-10zM1527.59,217.92h10v105.73h-10zM1547.64,162.48h10v161.17h-10zM1567.69,244.14h10v79.51h-10zM1587.75,145.72h10v177.93h-10zM1607.8,249.72h10v73.92h-10zM1627.86,183.11h10v140.54h-10zM1647.91,122.94h10v200.71h-10zM1667.96,235.97h10v87.67h-10zM1688.02,251.44h10v72.2h-10zM1708.07,195.14h10v128.5h-10z" fill="#ff8800"/>
<path d="M1246.83,85.55L1256.83,93.75M1246.83,96.45L1256.83,104.65M1246.83,107.35L1256.83,115.55M1246.83,118.25L1256.83,126.45M1246.83,129.15L1256.83,137.35M1246.83,140.05L1256.83,148.25M1246.83,150.95L1256.83,159.15M1246.83,161.85L1256.83,170.05M1246.83,172.75L1256.83,180.95M1246.83,183.65L1256.83,191.85M1246.83,194.55L1256.83,202.75M1246.83,205.45L1251.03,208.89M1266.88,87.27L1276.88,95.47M1266.88,98.17L1276.88,106.37M1266.88,109.07L1276.88,117.27M1266.88,119.97L1276.88,128.17M1266.88,130.87L1276.88,139.07M1266.88,141.77L1276.88,149.97M1266.88,152.67L1276.88,160.87M1266.88,163.57L1276.88,171.77M1266.88,174.47L1276.88,182.67M1266.88,185.37L1276.88,193.57M1266.88,196.27L1271.27,199.87M1286.94,91.13L1296.94,99.33M1286.94,102.03L1296.94,110.23M1286.94,112.93L1296.94,121.13M1286.94,123.83L1296.94,132.03M1286.94,134.73L1296.94,142.93M1286.94,145.63L1296.94,153.83M1286.94,156.53L1296.94,164.73M1286.94,167.43L1296.94,175.63M1286.94,178.33L1296.94,186.53M1286.94,189.23L1296.94,197.43M1286.94,200.13L1296.94,208.33M1286.94,211.03L1296.94,219.23M1286.94,221.93L1290.95,225.23M1306.99,91.13L1316.99,99.33M1306.99,102.03L1316.99,110.23M1306.99,112.93L1316.99,121.13M1306.99,123.83L1316.99,132.03M1306.99,134.73L1316.99,142.93M1306.99,145.63L1316.99,153.83M1306.99,156.53L1316.99,164.73M1306.99,167.43L1316.99,175.63M1306.99,178.33L1316.99,186.53M1306.99,189.23L1314.19,195.14M1327.04,88.13L1337.04,96.33M1327.04,99.03L1337.04,107.23M1327.04,109.93L1337.04,118.13M1327.04,120.83L1337.04,129.03M1327.04,131.73L1337.04,139.93M1327.04,142.63L1337.04,150.83M1327.04,153.53L1337.04,161.73M1327.04,164.43L1337.04,172.63M1327.04,175.33L1337.04,183.53M1327.04,186.23L1331.1,189.55M1347.1,87.27L1357.1,95.47M1347.1,98.17L1357.1,106.37M1347.1,109.07L1357.1,117.27M1347.1,119.97L1357.1,128.17M1347.1,130.87L1357.1,139.07M1347.1,141.77L1357.1,149.97M1347.1,152.67L1357.1,160.87M1347.1,163.57L1356.25,171.07M1367.15,85.55L1377.15,93.75M1367.15,96.45L1377.15,104.65M1367.15,107.35L1377.15,115.55M1367.15,118.25L1377.15,126.45M1367.15,129.15L1377.15,137.35M1367.15,140.05L1377.15,148.25M1367.15,150.95L1377.15,159.15M1367.15,161.85L1377.15,170.05M1367.15,172.75L1377.15,180.95M1367.15,183.65L1377.15,191.85M1367.15,194.55L1377.15,202.75M1367.15,205.45L1377.15,213.65M1367.15,216.35L1377.15,224.55M1367.15,227.25L1367.31,227.37M1387.21,80.39L1397.21,88.59M1387.21,91.29L1397.21,99.49M1387.21,102.19L1397.21,110.39M1387.21,113.09L1397.21,121.29M1387.21,123.99L1397.21,132.19M1387.21,134.89L1397.21,143.09M1387.21,145.79L1397.21,153.99M1387.21,156.69L1395.84,163.77M1407.26,61.91L1417.26,70.11M1407.26,72.81L1417.26,81.01M1407.26,83.71L1417.26,91.91M1407.26,94.61L1417.26,102.81M1407.26,105.51L1417.26,113.71M1407.26,116.41L1417.26,124.61M1407.26,127.31L1417.26,135.51M1407.26,138.21L1417.26,146.41M1407.26,149.11L1417.26,157.31M1407.26,160.01L1417.26,168.21M1407.26,170.91L1417.26,179.11M1407.26,181.81L1417.26,190.01M1407.26,192.71L1417.26,200.91M1407.26,203.61L1411.61,207.17M1427.31,74.8L1437.31,83M1427.31,85.7L1437.31,93.9M1427.31,96.6L1437.31,104.8M1427.31,107.5L1437.31,115.7M1427.31,118.4L1437.31,126.6M1427.31,129.3L1437.31,137.5M1427.31,140.2L1437.31,148.4M1427.31,151.1L1437.31,159.3M1427.31,162L1437.31,170.2M1427.31,172.9L1437.31,181.1M1427.31,183.8L1437.31,192M1427.31,194.7L1437.31,202.9M1427.31,205.6L1437.31,213.8M1427.31,216.5L1437.31,224.7M1427.31,227.4L1437.31,235.6M1427.31,238.3L1437.31,246.5M1427.31,249.2L1434.76,255.31M1447.37,74.8L1457.37,83M1447.37,85.7L1457.37,93.9M1447.37,96.6L1457.37,104.8M1447.37,107.5L1457.37,115.7M1447.37,118.4L1457.37,126.6M1447.37,129.3L1457.37,137.5M1447.37,140.2L1457.37,148.4M1447.37,151.1L1457.37,159.3M1447.37,162L1457.37,170.2M1447.37,172.9L1457.37,181.1M1447.37,183.8L1457.37,192M1447.37,194.7L1457.37,202.9M1447.37,205.6L1457.37,213.8M1447.37,216.5L1457.37,224.7M1447.37,227.4L1457.37,235.6M1447.37,238.3L1457.37,246.5M1447.37,249.2L1457.37,257.4M1447.37,260.1L1457.37,268.3M1447.37,271L1448.67,272.07M1467.42,74.8L1477.42,83M1467.42,85.7L1477.42,93.9M1467.42,96.6L1477.42,104.8M1467.42,107.5L1468.95,108.76M1487.48,68.36L1497.48,76.56M1487.48,79.26L1497.48,87.46M1487.48,90.16L1497.48,98.36M1487.48,101.06L1497.48,109.26M1487.48,111.96L1497.48,120.16M1487.48,122.86L1497.48,131.06M1487.48,133.76L1497.48,141.96M1487.48,144.66L1497.48,152.86M1487.48,155.56L1497.48,163.76M1487.48,166.46L1497.48,174.66M1487.48,177.36L1497.48,185.56M1487.48,188.26L1497.48,196.46M1487.48,199.16L1497.48,207.36M1487.48,210.06L1497.48,218.26M1487.48,220.96L1497.48,229.16M1487.48,231.86L1497.48,240.06M1487.48,242.76L1497.48,250.96M1487.48,253.66L1497.48,261.86M1487.48,264.56L1497.48,272.76M1507.53,58.47L1517.53,66.67M1507.53,69.37L1517.53,77.57M1507.53,80.27L1517.53,88.47M1507.53,91.17L1517.53,99.37M1507.53,102.07L1517.53,110.27M1507.53,112.97L1512.87,117.35M1527.59,58.47L1537.59,66.67M1527.59,69.37L1537.59,77.57M1527.59,80.27L1537.59,88.47M1527.59,91.17L1537.59,99.37M1527.59,102.07L1537.59,110.27M1527.59,112.97L1537.59,121.17M1527.59,123.87L1537.59,132.07M1527.59,134.77L1537.59,142.97M1527.59,145.67L1537.59,153.87M1527.59,156.57L1537.59,164.77M1527.59,167.47L1537.59,175.67M1527.59,178.37L1534.41,183.97M1547.64,56.75L1557.64,64.95M1547.64,67.65L1557.64,75.85M1547.64,78.55L1557.64,86.75M1547.64,89.45L1557.64,97.65M1547.64,100.35L1557.64,108.55M1547.64,111.25L1557.64,119.45M1547.64,122.15L1550.17,124.23M1567.69,51.6L1577.69,59.8M1567.69,62.5L1577.69,70.7M1567.69,73.4L1577.69,81.6M1567.69,84.3L1577.69,92.5M1567.69,95.2L1577.69,103.4M1567.69,106.1L1577.69,114.3M1567.69,117L1577.69,125.2M1567.69,127.9L1577.69,136.1M1567.69,138.8L1577.69,147M1567.69,149.7L1577.69,157.9M1567.69,160.6L1577.69,168.8M1567.69,171.5L1577.69,179.7M1567.69,182.4L1577.69,190.6M1567.69,193.3L1573.61,198.15M1587.75,52.88L1597.75,61.08M1587.75,63.78L1597.75,71.98M1587.75,74.68L1597.75,82.88M1587.75,85.58L1597.75,93.78M1587.75,96.48L1594.33,101.88M1607.8,69.65L1617.8,77.85M1607.8,80.55L1617.8,88.75M1607.8,91.45L1617.8,99.65M1607.8,102.35L1617.8,110.55M1607.8,113.25L1617.8,121.45M1607.8,124.15L1617.8,132.35M1607.8,135.05L1617.8,143.25M1607.8,145.95L1617.8,154.15M1607.8,156.85L1617.8,165.05M1607.8,167.75L1617.8,175.95M1607.8,178.65L1617.8,186.85M1607.8,189.55L1617.8,197.75M1607.8,200.45L1617.8,208.65M1607.8,211.35L1617.8,219.55M1607.8,222.25L1617.8,230.45M1627.86,54.17L1637.86,62.37M1627.86,65.07L1637.86,73.27M1627.86,75.97L1637.86,84.17M1627.86,86.87L1637.86,95.07M1627.86,97.77L1637.86,105.97M1627.86,108.67L1637.86,116.87M1627.86,119.57L1637.86,127.77M1627.86,130.47L1637.86,138.67M1647.91,65.35L1657.91,73.55M1647.91,76.25L1657.91,84.45M1647.91,87.15L1657.91,95.35M1647.91,98.05L1649.96,99.73M1667.96,81.68L1677.96,89.88M1667.96,92.58L1677.96,100.78M1667.96,103.48L1677.96,111.68M1667.96,114.38L1677.96,122.58M1667.96,125.28L1677.96,133.48M1667.96,136.18L1677.96,144.38M1667.96,147.08L1677.96,155.28M1667.96,157.98L1677.96,166.18M1667.96,168.88L1677.96,177.08M1667.96,179.78L1677.96,187.98M1667.96,190.68L1677.96,198.88M1667.96,201.58L1677.96,209.78M1667.96,212.48L1677.96,220.68M1667.96,223.38L1677.96,231.58M1667.96,234.28L1670.03,235.97M1688.02,82.97L1698.02,91.17M1688.02,93.87L1698.02,102.07M1688.02,104.77L1698.02,112.97M1688.02,115.67L1698.02,123.87M1688.02,126.57L1698.02,134.77M1688.02,137.47L1698.02,145.67M1688.02,148.37L1698.02,156.57M1688.02,159.27L1698.02,167.47M1688.02,170.17L1698.02,178.37M1688.02,181.07L1698.02,189.27M1688.02,191.97L1698.02,200.17M1688.02,202.87L1698.02,211.07M1688.02,213.77L1698.02,221.97M1688.02,224.67L1698.02,232.87M1688.02,235.57L1698.02,243.77M1688.02,246.47L1694.08,251.44M1708.07,87.27L1718.07,95.47M1708.07,98.17L1718.07,106.37M1708.07,109.07L1718.07,117.27M1708.07,119.97L1718.07,128.17M1708.07,130.87L1718.07,139.07M1708.07,141.77L1718.07,149.97M1708.07,152.67L1718.07,160.87M1708.07,163.57L1718.07,171.77M1708.07,174.47L1718.07,182.67M1708.07,185.37L1718.07,193.57" stroke="#1e1428" stroke-width="1.15" fill="none"/>
<path d="M1246.83,336.97L1256.83,328.77M1246.83,326.07L1249.78,323.64M1266.88,339.98L1276.88,331.78M1266.88,329.08L1273.51,323.64M1286.94,349L1296.94,340.8M1286.94,338.1L1296.94,329.9M1286.94,327.2L1291.27,323.64M1306.99,348.14L1316.99,339.94M1306.99,337.24L1316.99,329.04M1306.99,326.34L1310.28,323.64M1327.04,342.98L1337.04,334.78M1327.04,332.08L1337.04,323.88M1347.1,339.12L1357.1,330.92M1347.1,328.22L1352.67,323.64M1367.15,336.97L1377.15,328.77M1367.15,326.07L1370.11,323.64M1407.26,237.69L1417.26,229.49M1407.26,226.79L1417.26,218.59M1407.26,215.89L1417.26,207.69M1427.31,272.07L1437.31,263.87M1427.31,261.17L1434.46,255.31M1447.37,288.4L1457.37,280.2M1447.37,277.5L1453.99,272.07M1467.42,124.66L1477.42,116.46M1467.42,113.76L1473.52,108.76M1487.48,294.85L1497.48,286.65M1487.48,283.95L1497.48,275.75M1507.53,151.73L1517.53,143.53M1507.53,140.83L1517.53,132.63M1507.53,129.93L1517.53,121.73M1507.53,119.03L1509.58,117.35M1527.59,217.92L1537.59,209.72M1527.59,207.02L1537.59,198.82M1527.59,196.12L1537.59,187.92M1527.59,185.22L1529.11,183.97M1547.64,162.48L1557.64,154.28M1547.64,151.58L1557.64,143.38M1547.64,140.68L1557.64,132.48M1547.64,129.78L1554.41,124.23M1567.69,244.14L1577.69,235.94M1567.69,233.24L1577.69,225.04M1567.69,222.34L1577.69,214.14M1567.69,211.44L1577.69,203.24M1567.69,200.54L1570.6,198.15M1587.75,145.72L1597.75,137.52M1587.75,134.82L1597.75,126.62M1587.75,123.92L1597.75,115.72M1587.75,113.02L1597.75,104.82M1587.75,102.12L1588.04,101.88M1607.8,249.72L1617.8,241.52M1607.8,238.82L1615.47,232.53M1627.86,183.11L1637.86,174.91M1627.86,172.21L1637.86,164.01M1627.86,161.31L1637.86,153.11M1627.86,150.41L1637.86,142.21M1647.91,122.94L1657.91,114.74M1647.91,112.04L1657.91,103.84M1647.91,101.14L1649.63,99.73M1667.96,325.36L1670.06,323.64M1688.02,330.09L1695.88,323.64M1708.07,338.69L1718.07,330.49M1708.07,327.79L1713.12,323.64" stroke="#0c2a14" stroke-width="1.15" fill="none"/>
<path d="M1246.83,85.55h10v123.35h-10zM1246.83,208.89h10v114.75h-10zM1246.83,323.64h10v13.32h-10zM1266.88,87.27h10v112.6h-10zM1266.88,199.87h10v123.78h-10zM1266.88,323.64h10v16.33h-10zM1286.94,91.13h10v134.09h-10zM1286.94,225.23h10v98.42h-10zM1286.94,323.64h10v25.36h-10zM1306.99,91.13h10v104.01h-10zM1306.99,195.14h10v128.5h-10zM1306.99,323.64h10v24.5h-10zM1327.04,88.13h10v101.43h-10zM1327.04,189.55h10v134.09h-10zM1327.04,323.64h10v19.34h-10zM1347.1,87.27h10v83.81h-10zM1347.1,171.07h10v152.57h-10zM1347.1,323.64h10v15.47h-10zM1367.15,85.55h10v141.83h-10zM1367.15,227.37h10v96.27h-10zM1367.15,323.64h10v13.32h-10zM1387.21,80.39h10v83.38h-10zM1387.21,163.77h10v159.88h-10zM1407.26,61.91h10v145.26h-10zM1407.26,207.17h10v30.51h-10zM1407.26,237.69h10v85.96h-10zM1427.31,74.8h10v180.51h-10zM1427.31,255.31h10v16.76h-10zM1427.31,272.07h10v51.57h-10zM1447.37,74.8h10v197.27h-10zM1447.37,272.07h10v16.33h-10zM1447.37,288.4h10v35.24h-10zM1467.42,74.8h10v33.95h-10zM1467.42,108.76h10v15.9h-10zM1467.42,124.66h10v198.99h-10zM1487.48,68.36h10v206.72h-10zM1487.48,275.08h10v19.77h-10zM1487.48,294.85h10v28.8h-10zM1507.53,58.47h10v58.88h-10zM1507.53,117.35h10v34.38h-10zM1507.53,151.73h10v171.91h-10zM1527.59,58.47h10v125.5h-10zM1527.59,183.97h10v33.95h-10zM1527.59,217.92h10v105.73h-10zM1547.64,56.75h10v67.48h-10zM1547.64,124.23h10v38.25h-10zM1547.64,162.48h10v161.17h-10zM1567.69,51.6h10v146.55h-10zM1567.69,198.15h10v45.99h-10zM1567.69,244.14h10v79.51h-10zM1587.75,52.88h10v48.99h-10zM1587.75,101.88h10v43.84h-10zM1587.75,145.72h10v177.93h-10zM1607.8,69.65h10v162.89h-10zM1607.8,232.53h10v17.19h-10zM1607.8,249.72h10v73.92h-10zM1627.86,54.17h10v85.96h-10zM1627.86,140.13h10v42.98h-10zM1627.86,183.11h10v140.54h-10zM1647.91,65.35h10v34.38h-10zM1647.91,99.73h10v23.21h-10zM1647.91,122.94h10v200.71h-10zM1667.96,81.68h10v154.29h-10zM1667.96,235.97h10v87.67h-10zM1667.96,323.64h10v1.72h-10zM1688.02,82.97h10v168.47h-10zM1688.02,251.44h10v72.2h-10zM1688.02,323.64h10v6.45h-10zM1708.07,87.27h10v107.87h-10zM1708.07,195.14h10v128.5h-10zM1708.07,323.64h10v15.04h-10z" stroke="#141414" stroke-width="1.15" fill="none"/>
<line x1="1241.8" y1="323.64" x2="1723.1" y2="323.64" stroke="#000" stroke-width="2.5"/>
<path d="M1251.83,409.6V406M1251.83,22.8V26.4M1271.88,409.6V402.6M1271.88,22.8V29.8M1291.94,409.6V406M1291.94,22.8V26.4M1311.99,409.6V402.6M1311.99,22.8V29.8M1332.04,409.6V406M1332.04,22.8V26.4M1352.1,409.6V402.6M1352.1,22.8V29.8M1372.15,409.6V406M1372.15,22.8V26.4M1392.21,409.6V402.6M1392.21,22.8V29.8M1412.26,409.6V406M1412.26,22.8V26.4M1432.31,409.6V402.6M1432.31,22.8V29.8M1452.37,409.6V406M1452.37,22.8V26.4M1472.42,409.6V402.6M1472.42,22.8V29.8M1492.48,409.6V406M1492.48,22.8V26.4M1512.53,409.6V402.6M1512.53,22.8V29.8M1532.59,409.6V406M1532.59,22.8V26.4M1552.64,409.6V402.6M1552.64,22.8V29.8M1572.69,409.6V406M1572.69,22.8V26.4M1592.75,409.6V402.6M1592.75,22.8V29.8M1612.8,409.6V406M1612.8,22.8V26.4M1632.86,409.6V402.6M1632.86,22.8V29.8M1652.91,409.6V406M1652.91,22.8V26.4M1672.96,409.6V402.6M1672.96,22.8V29.8M1693.02,409.6V406M1693.02,22.8V26.4M1713.07,409.6V402.6M1713.07,22.8V29.8M1241.8,388.11H1245.4M1723.1,388.11H1719.5M1241.8,366.62H1248.8M1723.1,366.62H1716.1M1241.8,345.13H1245.4M1723.1,345.13H1719.5M1241.8,323.64H1248.8M1723.1,323.64H1716.1M1241.8,302.16H1245.4M1723.1,302.16H1719.5M1241.8,280.67H1248.8M1723.1,280.67H1716.1M1241.8,259.18H1245.4M1723.1,259.18H1719.5M1241.8,237.69H1248.8M1723.1,237.69H1716.1M1241.8,216.2H1245.4M1723.1,216.2H1719.5M1241.8,194.71H1248.8M1723.1,194.71H1716.1M1241.8,173.22H1245.4M1723.1,173.22H1719.5M1241.8,151.73H1248.8M1723.1,151.73H1716.1M1241.8,130.24H1245.4M1723.1,130.24H1719.5M1241.8,108.76H1248.8M1723.1,108.76H1716.1M1241.8,87.27H1245.4M1723.1,87.27H1719.5M1241.8,65.78H1248.8M1723.1,65.78H1716.1M1241.8,44.29H1245.4M1723.1,44.29H1719.5" stroke="#000" stroke-width="2.9" fill="none"/>
<rect x="1241.8" y="22.8" width="481.3" height="386.8" fill="none" stroke="#000" stroke-width="2.9"/>
<text class="tk" x="1271.88" y="434.2" text-anchor="middle">2</text>
<text class="tk" x="1311.99" y="434.2" text-anchor="middle">4</text>
<text class="tk" x="1352.1" y="434.2" text-anchor="middle">6</text>
<text class="tk" x="1392.21" y="434.2" text-anchor="middle">8</text>
<text class="tk" x="1432.31" y="434.2" text-anchor="middle">10</text>
<text class="tk" x="1472.42" y="434.2" text-anchor="middle">12</text>
<text class="tk" x="1512.53" y="434.2" text-anchor="middle">14</text>
<text class="tk" x="1552.64" y="434.2" text-anchor="middle">16</text>
<text class="tk" x="1592.75" y="434.2" text-anchor="middle">18</text>
<text class="tk" x="1632.86" y="434.2" text-anchor="middle">20</text>
<text class="tk" x="1672.96" y="434.2" text-anchor="middle">22</text>
<text class="tk" x="1713.07" y="434.2" text-anchor="middle">24</text>
<text class="tk" x="1233.9" y="416.1" text-anchor="end">-2</text>
<text class="tk" x="1233.9" y="373.12" text-anchor="end">-1</text>
<text class="tk" x="1233.9" y="330.14" text-anchor="end">0</text>
<text class="tk" x="1233.9" y="287.17" text-anchor="end">1</text>
<text class="tk" x="1233.9" y="244.19" text-anchor="end">2</text>
<text class="tk" x="1233.9" y="201.21" text-anchor="end">3</text>
<text class="tk" x="1233.9" y="158.23" text-anchor="end">4</text>
<text class="tk" x="1233.9" y="115.26" text-anchor="end">5</text>
<text class="tk" x="1233.9" y="72.28" text-anchor="end">6</text>
<text class="tk" x="1233.9" y="29.3" text-anchor="end">7</text>
<text class="ax" x="1482.45" y="473" text-anchor="middle">Time (h)</text>
<text class="ax" x="0" y="0" text-anchor="middle" transform="translate(1206.6,216.2) rotate(-90)">Power (MW)</text>
<rect x="1327" y="30.3" width="43.4" height="20.9" fill="#9256b4"/>
<path d="M1359.7,30.3L1370.4,41M1348.8,30.3L1369.7,51.2M1337.9,30.3L1358.8,51.2M1327,30.3L1347.9,51.2M1327,41.2L1337,51.2" stroke="#1e1428" stroke-width="1.15" fill="none"/>
<rect x="1327" y="30.3" width="43.4" height="20.9" fill="none" stroke="#141414" stroke-width="1.15"/>
<text class="lg1" x="1376.8" y="47.6">Upstream grid</text>
<rect x="1502.9" y="30.3" width="43.4" height="20.9" fill="#04b43c"/>
<path d="M1535.6,51.2L1546.3,40.5M1524.7,51.2L1545.6,30.3M1513.8,51.2L1534.7,30.3M1502.9,51.2L1523.8,30.3M1502.9,40.3L1512.9,30.3" stroke="#0c2a14" stroke-width="1.15" fill="none"/>
<rect x="1502.9" y="30.3" width="43.4" height="20.9" fill="none" stroke="#141414" stroke-width="1.15"/>
<text class="lg" x="1552.7" y="47.6">FC 3</text>
<rect x="1602.5" y="30.3" width="43.4" height="20.9" fill="#ff8800"/>
<rect x="1602.5" y="30.3" width="43.4" height="20.9" fill="none" stroke="#141414" stroke-width="1.15"/>
<text class="lg" x="1652.3" y="47.6">MT 3</text>
<text class="cap" x="1454.6" y="538.5" text-anchor="middle">(<tspan font-weight="bold">c</tspan>)</text>
</g></svg>
</body></html>
